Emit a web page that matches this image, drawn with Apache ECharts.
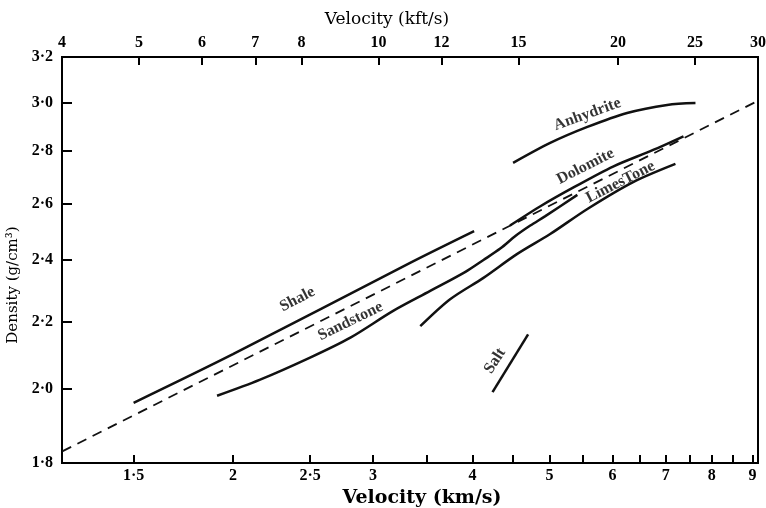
<!DOCTYPE html>
<html>
<head>
<meta charset="utf-8">
<script src="https://cdn.jsdelivr.net/npm/echarts@6/dist/echarts.min.js"></script>
<style>html,body{margin:0;padding:0;background:#fff}</style>
</head>
<body>
<div id="main" style="width:766px;height:508px"></div>
<script>
// axis ranges: bottom in km/s, top in kft/s (same span), density in g/cm3
var velMin = 1.2192, velMax = 9.144;
var kftMin = 4, kftMax = 30;
var densMin = 1.8, densMax = 3.2;

var velTicks = [1.5, 2, 2.5, 3, 3.5, 4, 4.5, 5, 5.5, 6, 6.5, 7, 7.5, 8, 8.5, 9];
var velLabels = [1.5, 2, 2.5, 3, 4, 5, 6, 7, 8, 9];
var kftTicks = [5, 6, 7, 8, 10, 12, 15, 20, 25];
var kftLabels = [4, 5, 6, 7, 8, 10, 12, 15, 20, 25, 30];
var densTicks = [2.0, 2.2, 2.4, 2.6, 2.8, 3.0];
var densLabels = [1.8, 2.0, 2.2, 2.4, 2.6, 2.8, 3.0, 3.2];

// [velocity km/s, density g/cm3]
var shale = [[1.50, 1.96], [2.00, 2.10], [3.34, 2.39], [4.02, 2.50]];
var sandstone = [[1.91, 1.98], [2.16, 2.025], [2.50, 2.09], [2.81, 2.15], [3.18, 2.233], [3.54, 2.297],
  [3.92, 2.36], [4.13, 2.40], [4.34, 2.44], [4.53, 2.483], [4.73, 2.52], [4.94, 2.554], [5.42, 2.632]];
var limestone = [[3.44, 2.185], [3.75, 2.27], [4.13, 2.34], [4.55, 2.42], [5.01, 2.49], [5.58, 2.58],
  [6.37, 2.68], [7.20, 2.75]];
var dolomite = [[4.46, 2.52], [4.87, 2.59], [5.36, 2.66], [6.01, 2.74], [6.75, 2.805], [7.37, 2.86]];
var anhydrite = [[4.50, 2.754], [5.01, 2.833], [5.58, 2.898], [6.26, 2.956], [7.03, 2.99], [7.63, 2.998]];
var salt = [[4.24, 1.99], [4.70, 2.16]];
var gardner = [[1.22, 1.83], [9.05, 3.0]];

var labelNames = ['Shale', 'Sandstone', 'Anhydrite', 'Dolomite', 'LimesTone', 'Salt'];
var labelAt = [[2.41, 2.27], [2.81, 2.20], [5.58, 2.95], [5.55, 2.74], [6.14, 2.68], [4.27, 2.08]];
var labelTilt = [27, 26, 20, 27, 27, 57];

var serif = 'Liberation Serif';
var titleFont = 'DejaVu Serif';
function dot(v) { return String(v).replace('.', '\u00b7'); }

function curve(name, data) {
  return {
    name: name, type: 'line', data: data, showSymbol: false, smooth: 0.3,
    xAxisIndex: 0, yAxisIndex: 0, silent: true,
    lineStyle: { color: '#111', width: 2.5 }
  };
}

var tickLabel = { fontFamily: serif, fontSize: 16, fontWeight: 'bold', color: '#000' };

var chart = echarts.init(document.getElementById('main'));
chart.setOption({
  animation: false,
  grid: { left: 62, right: 8, top: 57, bottom: 45, outerBoundsMode: 'none',
    show: true, borderColor: '#000', borderWidth: 2 },
  xAxis: [
    {
      type: 'log', logBase: 10, min: velMin, max: velMax, position: 'bottom',
      name: 'Velocity (km/s)', nameLocation: 'middle', nameGap: 25,
      nameTextStyle: { fontFamily: titleFont, fontSize: 19, fontWeight: 'bold', color: '#000', padding: [0, 0, 0, 24] },
      axisLine: { lineStyle: { color: '#000', width: 2 } },
      axisTick: { inside: true, length: 8, customValues: velTicks, lineStyle: { color: '#000', width: 2 } },
      minorTick: { show: false },
      axisLabel: Object.assign({ customValues: velLabels, formatter: function (v) { return dot(v); }, margin: 5 }, tickLabel),
      splitLine: { show: false }
    },
    {
      type: 'log', logBase: 10, min: kftMin, max: kftMax, position: 'top',
      name: 'Velocity (kft/s)', nameLocation: 'middle', nameGap: 29,
      nameTextStyle: { fontFamily: titleFont, fontSize: 17, color: '#000', padding: [0, 46, 0, 0] },
      axisLine: { lineStyle: { color: '#000', width: 2 } },
      axisTick: { inside: true, length: 8, customValues: kftTicks, lineStyle: { color: '#000', width: 2 } },
      minorTick: { show: false },
      axisLabel: Object.assign({ customValues: kftLabels, formatter: function (v) { return dot(v); }, margin: 6 }, tickLabel),
      splitLine: { show: false }
    }
  ],
  yAxis: {
    type: 'log', logBase: 10, min: densMin, max: densMax,
    name: 'Density (g/cm\u00b3)', nameLocation: 'middle', nameGap: 38,
    nameTextStyle: { fontFamily: titleFont, fontSize: 15, color: '#000', padding: [0, 50, 0, 0] },
    axisLine: { lineStyle: { color: '#000', width: 2 } },
    axisTick: { inside: true, length: 10, customValues: densTicks, lineStyle: { color: '#000', width: 2 } },
    minorTick: { show: false },
    axisLabel: Object.assign({ customValues: densLabels, formatter: function (v) { return dot(v.toFixed(1)); }, margin: 9 }, tickLabel),
    splitLine: { show: false }
  },
  series: [
    {
      name: 'Gardner', type: 'line', data: gardner, showSymbol: false, silent: true,
      lineStyle: { color: '#111', width: 1.8, type: [10, 7] }
    },
    curve('Shale', shale),
    curve('Sandstone', sandstone),
    curve('Limestone', limestone),
    curve('Dolomite', dolomite),
    curve('Anhydrite', anhydrite),
    curve('Salt', salt),
    {
      type: 'scatter', symbolSize: 0, silent: true, z: 5,
      data: labelNames.map(function (n, i) {
        return { name: n, value: labelAt[i], label: { rotate: labelTilt[i] } };
      }),
      label: { show: true, position: 'inside', formatter: '{b}',
        fontFamily: serif, fontSize: 16, fontWeight: 'bold', color: '#000' }
    }
  ]
});
</script>
</body>
</html>
